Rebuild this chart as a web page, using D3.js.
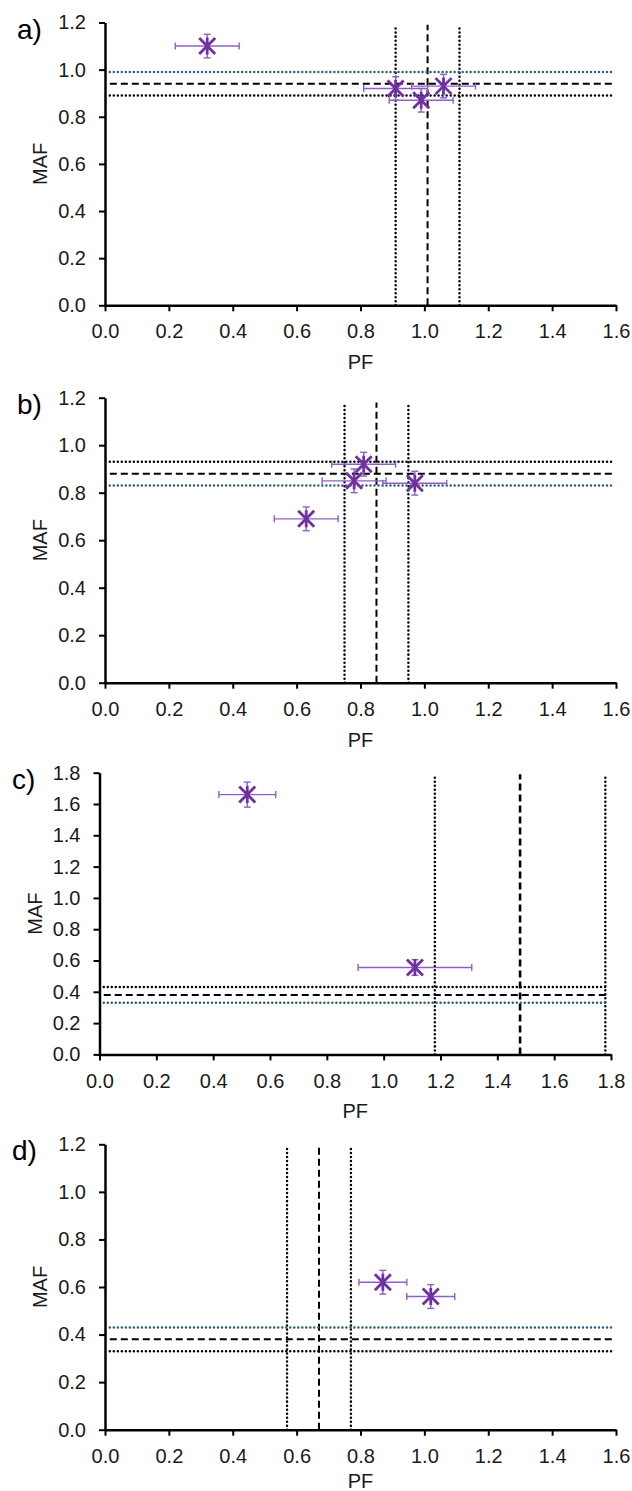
<!DOCTYPE html>
<html><head><meta charset="utf-8">
<script src="https://cdn.jsdelivr.net/npm/d3@7"></script>
<style>body{margin:0;background:#fff}svg{display:block}</style>
</head><body>
<script>
// ---------------- data ----------------
const panelLabels = ["a)", "b)", "c)", "d)"];
const xMaxes = [1.6, 1.6, 1.8, 1.6];
const yMaxes = [1.2, 1.2, 1.8, 1.2];
const xTickLabels = [
  ["0.0","0.2","0.4","0.6","0.8","1.0","1.2","1.4","1.6"],
  ["0.0","0.2","0.4","0.6","0.8","1.0","1.2","1.4","1.6"],
  ["0.0","0.2","0.4","0.6","0.8","1.0","1.2","1.4","1.6","1.8"],
  ["0.0","0.2","0.4","0.6","0.8","1.0","1.2","1.4","1.6"]
];
const yTickLabels = [
  ["0.0","0.2","0.4","0.6","0.8","1.0","1.2"],
  ["0.0","0.2","0.4","0.6","0.8","1.0","1.2"],
  ["0.0","0.2","0.4","0.6","0.8","1.0","1.2","1.4","1.6","1.8"],
  ["0.0","0.2","0.4","0.6","0.8","1.0","1.2"]
];
const pfValues  = [[0.32, 0.91, 0.99, 1.06], [0.63, 0.81, 0.78, 0.97], [0.52, 1.11], [0.87, 1.02]];
const mafValues = [[1.10, 0.92, 0.87, 0.93], [0.69, 0.92, 0.85, 0.84], [1.66, 0.555], [0.62, 0.56]];
const pfErrors  = [[0.10, 0.10, 0.10, 0.10], [0.10, 0.10, 0.10, 0.10], [0.10, 0.20], [0.075, 0.075]];
const mafErrors = [[0.05, 0.05, 0.05, 0.05], [0.05, 0.05, 0.05, 0.05], [0.08, 0.05], [0.05, 0.05]];
const pfRefCenter  = [1.01, 0.85, 1.48, 0.67];
const pfRefLow     = [0.91, 0.75, 1.18, 0.57];
const pfRefHigh    = [1.11, 0.95, 1.78, 0.77];
const mafRefCenter = [0.94, 0.88, 0.38, 0.38];
const mafRefLow    = [0.89, 0.83, 0.33, 0.33];
const mafRefHigh   = [0.99, 0.93, 0.43, 0.43];
const blueMafBound = ["high", "low", "low", "high"];
const vLineTop     = [1.19, 1.18, 1.79, 1.19];
const hLineStart   = [0.015, 0.015, 0.015, 0.015];
const hLineEnd     = [1.59, 1.59, 1.79, 1.59];

// ---------------- layout ----------------
const frames = [
  {x0: 105,  x1: 616, yT: 22.5,  yB: 305.3, pfY: 64},
  {x0: 105,  x1: 616, yT: 397.7, yB: 682.7, pfY: 64},
  {x0: 99.5, x1: 611, yT: 772.7, yB: 1054.4, pfY: 64},
  {x0: 105,  x1: 616, yT: 1144.3, yB: 1429.7, pfY: 58}
];
const FONT = "Liberation Sans, Arial, sans-serif";
const purple = "#7030A0", errColor = "#8F5FC9", blueDot = "#2E5E7E";
const DOT = "0.01,4";

const svg = d3.select("body").append("svg").attr("width", 632).attr("height", 1491)
  .style("font-family", FONT);

frames.forEach((f, i) => {
  const x = d3.scaleLinear().domain([0, xMaxes[i]]).range([f.x0, f.x1]);
  const y = d3.scaleLinear().domain([0, yMaxes[i]]).range([f.yB, f.yT]);
  const g = svg.append("g");

  // reference lines
  const vl = (v, dash, w, cap) => g.append("line")
    .attr("x1", x(v)).attr("x2", x(v)).attr("y1", y(0)).attr("y2", y(vLineTop[i]))
    .attr("stroke", "#000").attr("stroke-width", w).attr("stroke-dasharray", dash)
    .attr("stroke-linecap", cap);
  const hl = (v, dash, w, c, cap) => g.append("line")
    .attr("x1", x(hLineStart[i])).attr("x2", x(hLineEnd[i])).attr("y1", y(v)).attr("y2", y(v))
    .attr("stroke", c).attr("stroke-width", w).attr("stroke-dasharray", dash)
    .attr("stroke-linecap", cap);
  vl(pfRefLow[i], DOT, 2.5, "round");
  vl(pfRefHigh[i], DOT, 2.5, "round");
  vl(pfRefCenter[i], "7,4", i === 2 ? 2.6 : 2, "butt");
  hl(mafRefHigh[i], DOT, 2.5, blueMafBound[i] === "high" ? blueDot : "#000", "round");
  hl(mafRefLow[i], DOT, 2.5, blueMafBound[i] === "low" ? blueDot : "#000", "round");
  hl(mafRefCenter[i], "7,4", 2, "#000", "butt");

  // error bars and markers
  const pts = pfValues[i].map((p, k) => ({p, m: mafValues[i][k], ep: pfErrors[i][k], em: mafErrors[i][k]}));
  const cap = 3.5;
  pts.forEach(d => {
    const cx = x(d.p), cy = y(d.m);
    const xl = x(d.p - d.ep), xr = x(d.p + d.ep), yt = y(d.m + d.em), yb = y(d.m - d.em);
    const e = g.append("g").attr("stroke", errColor).attr("stroke-width", 1.4).attr("fill", "none");
    e.append("line").attr("x1", xl).attr("x2", xr).attr("y1", cy).attr("y2", cy);
    e.append("line").attr("x1", xl).attr("x2", xl).attr("y1", cy - cap).attr("y2", cy + cap);
    e.append("line").attr("x1", xr).attr("x2", xr).attr("y1", cy - cap).attr("y2", cy + cap);
    e.append("line").attr("x1", cx).attr("x2", cx).attr("y1", yt).attr("y2", yb);
    e.append("line").attr("x1", cx - cap).attr("x2", cx + cap).attr("y1", yt).attr("y2", yt);
    e.append("line").attr("x1", cx - cap).attr("x2", cx + cap).attr("y1", yb).attr("y2", yb);
  });
  pts.forEach(d => {
    const cx = x(d.p), cy = y(d.m), s = 8;
    const mk = g.append("g").attr("stroke", purple).attr("stroke-width", 2.8).attr("stroke-linecap", "butt");
    mk.append("line").attr("x1", cx - s).attr("y1", cy - s).attr("x2", cx + s).attr("y2", cy + s);
    mk.append("line").attr("x1", cx - s).attr("y1", cy + s).attr("x2", cx + s).attr("y2", cy - s);
    mk.append("line").attr("x1", cx).attr("y1", cy - s - 0.5).attr("x2", cx).attr("y2", cy + s + 0.5);
  });

  // axes
  const xa = g.append("g").attr("transform", `translate(0,${f.yB})`)
    .call(d3.axisBottom(x).tickValues(xTickLabels[i].map(Number)).tickFormat((d, k) => xTickLabels[i][k])
      .tickSizeInner(6).tickSizeOuter(0).tickPadding(13));
  const ya = g.append("g").attr("transform", `translate(${f.x0},0)`)
    .call(d3.axisLeft(y).tickValues(yTickLabels[i].map(Number)).tickFormat((d, k) => yTickLabels[i][k])
      .tickSizeInner(6).tickSizeOuter(0).tickPadding(13));
  [xa, ya].forEach(a => {
    a.select(".domain").attr("stroke", "#000").attr("stroke-width", 2.5);
    a.selectAll(".tick line").attr("stroke", "#000").attr("stroke-width", 2);
    a.selectAll(".tick text").attr("fill", "#1a1a1a").style("font-size", "20px").style("font-family", FONT);
  });

  // titles
  g.append("text").attr("x", (f.x0 + f.x1) / 2).attr("y", f.yB + f.pfY).attr("text-anchor", "middle")
    .style("font-size", "20px").attr("fill", "#1a1a1a").text("PF");
  g.append("text").attr("transform", `translate(${f.x0 - 58},${(f.yT + f.yB) / 2}) rotate(-90)`)
    .attr("text-anchor", "middle").style("font-size", "20px").attr("fill", "#1a1a1a").text("MAF");
  g.append("text").attr("x", i === 2 || i === 3 ? 12 : 17).attr("y", f.yT + 16)
    .style("font-size", "28px").attr("fill", "#000").text(panelLabels[i]);
});
</script>
</body></html>
